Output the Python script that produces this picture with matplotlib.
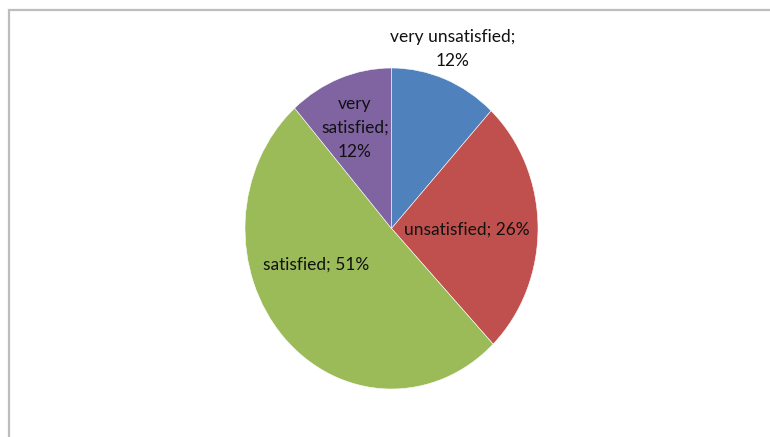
"""Satisfaction survey pie chart, drawn in the old Excel style."""

import matplotlib

matplotlib.use("Agg")

import matplotlib.pyplot as plt
from matplotlib.patches import Rectangle


CATEGORIES = ["very unsatisfied", "unsatisfied", "satisfied", "very satisfied"]
SHARES = [11.9, 25.9, 50.7, 11.5]
SHOWN_PCT = ["12%", "26%", "51%", "12%"]
COLORS = ["#4f81bd", "#c0504d", "#9bbb59", "#8064a2"]

# label text and where it sits (in pie data coords)
LABEL_TEXT = [
    "very unsatisfied;\n{}",
    "unsatisfied; {}",
    "satisfied; {}",
    "very\nsatisfied;\n{}",
]
LABEL_POS = [(0.42, 1.12), (0.515, -0.01), (-0.515, -0.227), (-0.25, 0.626)]


def main():
    W, H = 770, 437
    fig = plt.figure(figsize=(W / 100, H / 100), dpi=100)

    # pie box: slightly taller than wide, as in the source picture
    ax = fig.add_axes([245 / W, (H - 389) / H, 293 / W, 321 / H])
    ax.pie(
        SHARES,
        colors=COLORS,
        startangle=90,
        counterclock=False,
        radius=1.0,
        wedgeprops={"edgecolor": "white", "linewidth": 0.4},
    )
    ax.set_aspect("auto")
    ax.set_xlim(-1, 1)
    ax.set_ylim(-1, 1)
    ax.axis("off")

    for text, pct, (x, y) in zip(LABEL_TEXT, SHOWN_PCT, LABEL_POS):
        ax.text(
            x, y, text.format(pct),
            ha="center", va="center",
            fontsize=12.5, family=["Lato", "DejaVu Sans"],
            color="#111111", linespacing=1.62,
        )

    # chart area border (only top and left edges are in frame)
    fig.patches.append(
        Rectangle(
            (8.5 / W, -0.1), 1.2, (H - 10.5) / H + 0.1,
            transform=fig.transFigure, fill=False,
            edgecolor="#bdbdbd", linewidth=1.6,
        )
    )

    fig.savefig("out.png", dpi=100)
    plt.close(fig)


if __name__ == "__main__":
    main()
